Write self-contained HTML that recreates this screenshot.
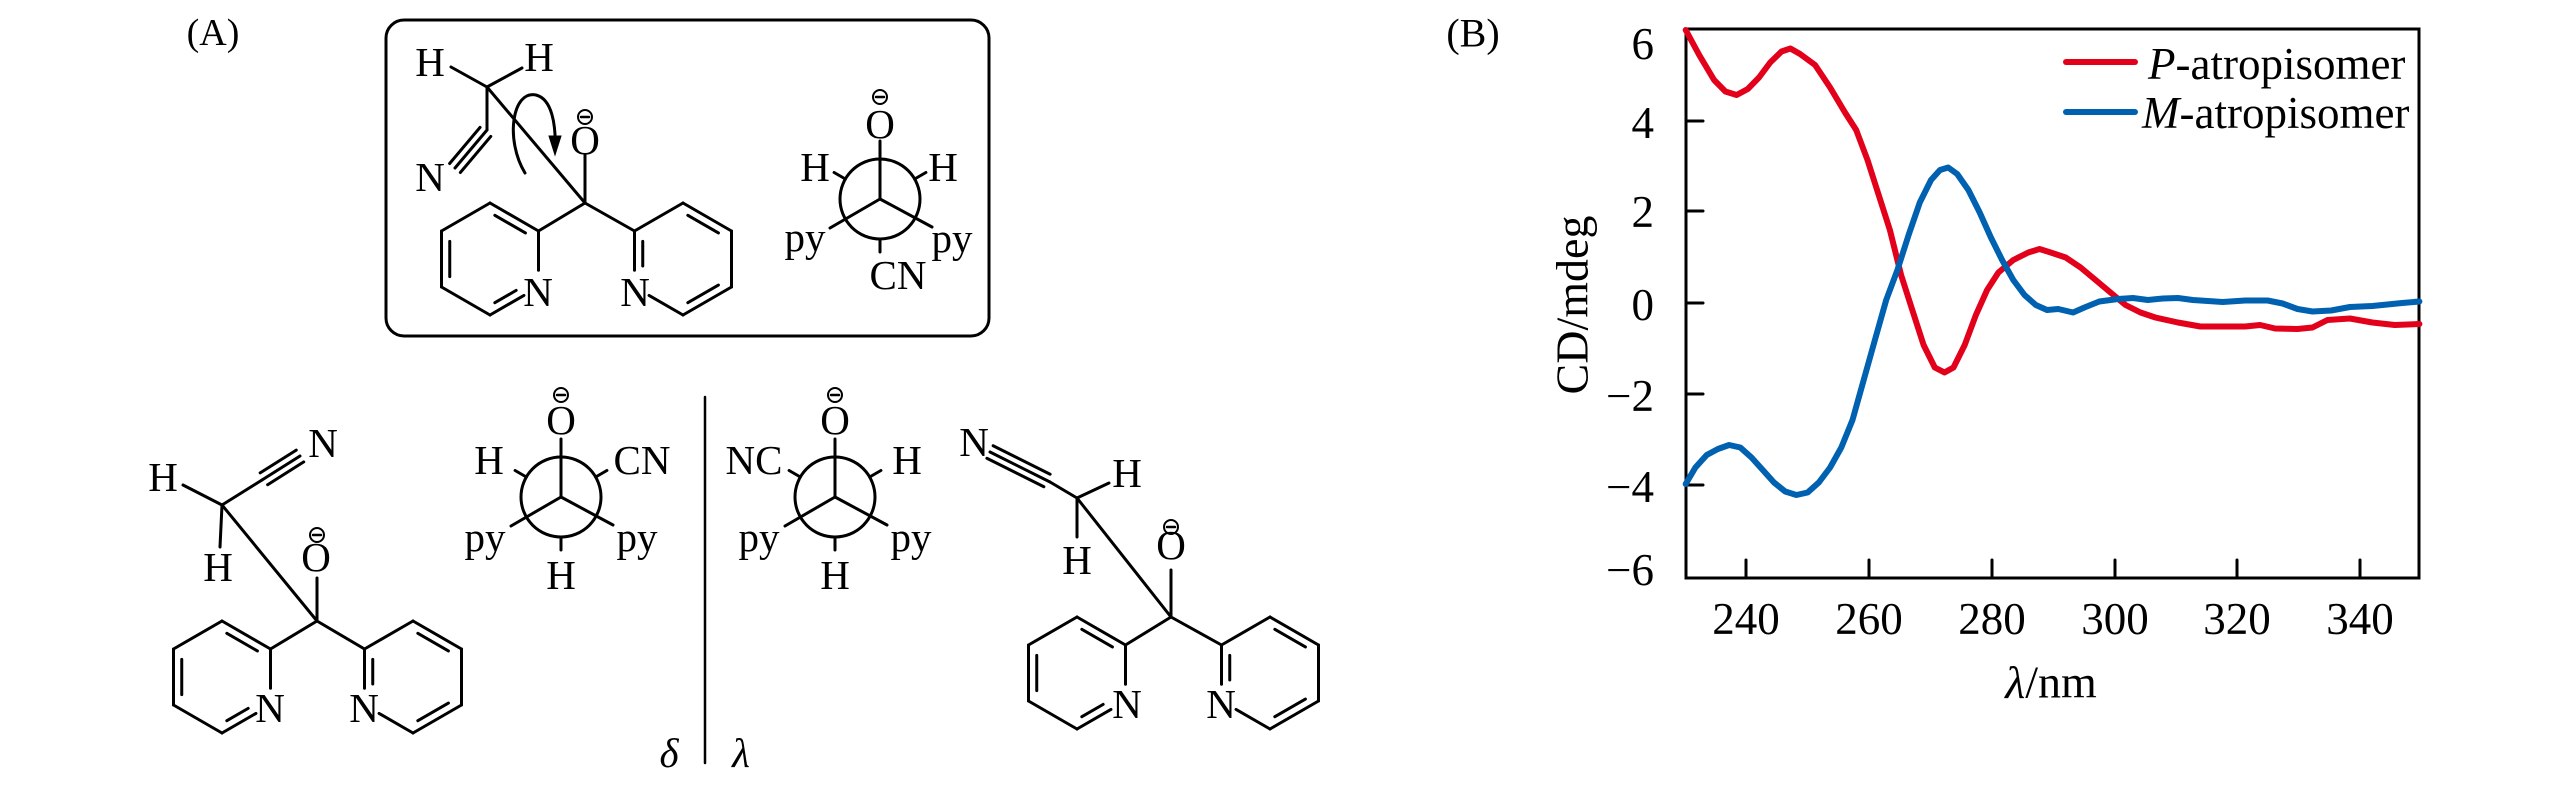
<!DOCTYPE html>
<html><head><meta charset="utf-8"><style>
html,body{margin:0;padding:0;background:#fff;}
svg{display:block;}
text{font-family:"Liberation Serif",serif;fill:#000;}
</style></head><body>
<svg id="s" width="2567" height="787" viewBox="0 0 2567 787" xmlns="http://www.w3.org/2000/svg">
<g id="g" stroke="#000" stroke-width="3" fill="none" stroke-linecap="round"></g>
<g font-size="41" text-anchor="middle" dominant-baseline="central">
<text x="213" y="33" font-size="38">(A)</text>
<text x="1473" y="33" font-size="40">(B)</text>
<!-- box molecule -->
<text x="430" y="62">H</text><text x="539" y="57">H</text><text x="430" y="177">N</text>
<text x="585" y="140">O</text>
<text x="538" y="292">N</text><text x="635" y="292">N</text>
<!-- box newman -->
<text x="880" y="124">O</text><text x="815" y="167">H</text><text x="943" y="167">H</text>
<text x="805" y="237">py</text><text x="952" y="238">py</text><text x="898" y="275">CN</text>
<!-- lower left molecule -->
<text x="163" y="477">H</text><text x="323" y="443">N</text><text x="218" y="567">H</text>
<text x="316" y="557">O</text><text x="270" y="708">N</text><text x="364" y="708">N</text>
<!-- newman 1 -->
<text x="561" y="420">O</text><text x="489" y="460">H</text><text x="642" y="460">CN</text>
<text x="485" y="537">py</text><text x="637" y="537">py</text><text x="561" y="575">H</text>
<!-- newman 2 -->
<text x="835" y="420">O</text><text x="754" y="460">NC</text><text x="907" y="460">H</text>
<text x="759" y="537">py</text><text x="911" y="537">py</text><text x="835" y="575">H</text>
<!-- right molecule -->
<text x="974" y="442">N</text><text x="1127" y="473">H</text><text x="1077" y="560">H</text>
<text x="1171" y="545">O</text><text x="1127" y="704">N</text><text x="1221" y="704">N</text>
<text x="669" y="753" font-style="italic">δ</text><text x="741" y="753" font-style="italic">λ</text>
<!-- plot labels -->
<g font-size="45">
<text x="1654" y="44" text-anchor="end">6</text>
<text x="1654" y="123" text-anchor="end">4</text>
<text x="1654" y="212" text-anchor="end">2</text>
<text x="1654" y="305" text-anchor="end">0</text>
<text x="1654" y="396" text-anchor="end">−2</text>
<text x="1654" y="487" text-anchor="end">−4</text>
<text x="1654" y="570" text-anchor="end">−6</text>
<text x="1746" y="619">240</text><text x="1869" y="619">260</text><text x="1992" y="619">280</text>
<text x="2115" y="619">300</text><text x="2237" y="619">320</text><text x="2360" y="619">340</text>
<text x="2051" y="682" font-size="46"><tspan font-style="italic">λ</tspan>/nm</text>
<text x="0" y="0" font-size="46" transform="translate(1572,305) rotate(-90)">CD/mdeg</text>
<text x="2148" y="64" text-anchor="start"><tspan font-style="italic">P</tspan>-atropisomer</text>
<text x="2142" y="113" text-anchor="start"><tspan font-style="italic">M</tspan>-atropisomer</text>
</g>
</g>
</svg>
<script>
var g=document.getElementById('g');var NS='http://www.w3.org/2000/svg';
function el(t,a){var e=document.createElementNS(NS,t);for(var k in a)e.setAttribute(k,a[k]);g.appendChild(e);return e;}
function L(x1,y1,x2,y2,w){el('line',{x1:x1,y1:y1,x2:x2,y2:y2,'stroke-width':w||3});}
function minus(x,y){el('circle',{cx:x,cy:y,r:7,'stroke-width':2});L(x-4,y,x+4,y,2.5);}
function ring(cx,cy,nIdx){var v=[];for(var i=0;i<6;i++){var a=(-90+60*i)*Math.PI/180;v.push([cx+56*Math.cos(a),cy+56*Math.sin(a)]);}
 for(var i=0;i<6;i++){var p=v[i],q=v[(i+1)%6];var a=p.slice(),b=q.slice();
  if(i==nIdx){a=[p[0]+(q[0]-p[0])*0.3,p[1]+(q[1]-p[1])*0.3];}
  if((i+1)%6==nIdx){b=[q[0]+(p[0]-q[0])*0.3,q[1]+(p[1]-q[1])*0.3];}
  L(a[0],a[1],b[0],b[1]);
  if(i%2==0){var k=0.17;var ia=[p[0]+(cx-p[0])*k,p[1]+(cy-p[1])*k],ib=[q[0]+(cx-q[0])*k,q[1]+(cy-q[1])*k];
   var A=[ia[0]+(ib[0]-ia[0])*0.12,ia[1]+(ib[1]-ia[1])*0.12],B=[ia[0]+(ib[0]-ia[0])*0.88,ia[1]+(ib[1]-ia[1])*0.88];
   if(i==nIdx)A=[ia[0]+(ib[0]-ia[0])*0.35,ia[1]+(ib[1]-ia[1])*0.35];
   if((i+1)%6==nIdx)B=[ia[0]+(ib[0]-ia[0])*0.65,ia[1]+(ib[1]-ia[1])*0.65];
   L(A[0],A[1],B[0],B[1]);}}}
function triple(x1,y1,x2,y2){var dx=x2-x1,dy=y2-y1,l=Math.hypot(dx,dy),nx=-dy/l*7,ny=dx/l*7;L(x1,y1,x2,y2);
 L(x1+nx+dx*0.05,y1+ny+dy*0.05,x2+nx,y2+ny);L(x1-nx+dx*0.05,y1-ny+dy*0.05,x2-nx,y2-ny);}
function mol(cC,c1,c2){
 L(cC[0],cC[1],c1[0]+48.5,c1[1]-28);L(cC[0],cC[1],c2[0]-48.5,c2[1]-28);ring(c1[0],c1[1],2);ring(c2[0],c2[1],4);}
el('rect',{x:386,y:20,width:603,height:316,rx:18,'stroke-width':3});
mol([585,203],[490,259],[683,259]);
L(451,67,487,87);L(522,68,487,87);L(487,87,487,130);triple(487,130,455,168);
L(487,87,585,203);L(585,155,585,203);minus(585,117);
el('path',{d:'M525,173 C505,140 512,90 536,95 C552,99 556,125 555,148','stroke-width':3});
el('path',{d:'M549,136 L555,155 L561,136 Z',fill:'#000','stroke-width':1});
function newman(cx,cy){el('circle',{cx:cx,cy:cy,r:40,'stroke-width':3});
 L(cx,cy,cx,cy-58);L(cx,cy,cx-50,cy+29);L(cx,cy,cx+52,cy+28);
 [150,30,90].forEach(function(d){var a=d*Math.PI/180,s=d==90?1:-1;
  L(cx+40*Math.cos(a),cy+s*40*Math.sin(a),cx+53*Math.cos(a),cy+s*53*Math.sin(a));});
 minus(cx,cy-102);}
newman(880,199);newman(561,497);newman(835,497);
mol([317,621],[222,677],[413,677]);
L(183,485,222,505);L(222,505,220,547);triple(262,480,300,456);L(222,505,262,480);
L(222,505,317,621);L(317,578,317,621);minus(317,535);
mol([1171,617],[1077,673],[1270,673]);
L(1109,483,1077,498);L(1077,498,1077,537);L(1077,498,1050,482);triple(1050,482,990,452);
L(1077,498,1171,617);L(1171,570,1171,617);minus(1171,527);
L(705,397,705,763,2.5);
el('rect',{x:1686,y:29,width:733,height:549,'stroke-width':3});
[121,211,303,394,485].forEach(function(y){L(1686,y,1703,y,3);});
[1746,1869,1992,2115,2237,2360].forEach(function(x){L(x,578,x,560,3);});
function curve(pts,c){var d='';for(var i=0;i<pts.length;i+=2){d+=(i?' L':'M')+(1400+pts[i]/1.337).toFixed(1)+','+(pts[i+1]/2).toFixed(1);}
 el('path',{d:d,stroke:c,'stroke-width':6,'stroke-linejoin':'round'});}
curve([382,60,400,110,420,160,435,183,450,190,465,178,480,155,495,125,510,103,522,97,535,108,555,130,575,175,595,225,610,260,625,320,640,390,655,460,670,550,685,620,700,690,715,735,728,745,740,735,755,690,770,630,785,580,800,545,820,520,840,505,855,498,870,505,890,515,910,535,930,560,950,585,970,610,990,625,1010,635,1040,645,1070,653,1100,653,1130,653,1150,650,1170,657,1200,658,1220,655,1240,640,1270,637,1300,645,1330,650,1363,648],'#e3001b');
curve([382,968,395,935,410,910,425,898,440,890,455,895,470,915,485,940,500,965,515,983,530,990,545,985,560,965,575,935,590,895,605,840,620,760,635,680,650,600,665,540,680,470,695,405,710,360,722,340,733,335,745,348,760,380,775,425,790,475,805,520,820,560,835,590,850,610,865,620,880,618,900,625,915,615,935,603,960,598,980,596,1000,600,1020,597,1040,596,1060,600,1080,602,1100,604,1130,601,1160,601,1180,607,1200,618,1220,623,1245,621,1270,614,1300,612,1320,609,1340,606,1363,603],'#0061b0');
L(2066,62,2135,62,6);g.lastChild.setAttribute('stroke','#e3001b');
L(2066,112,2135,112,6);g.lastChild.setAttribute('stroke','#0061b0');
</script>
</body></html>
